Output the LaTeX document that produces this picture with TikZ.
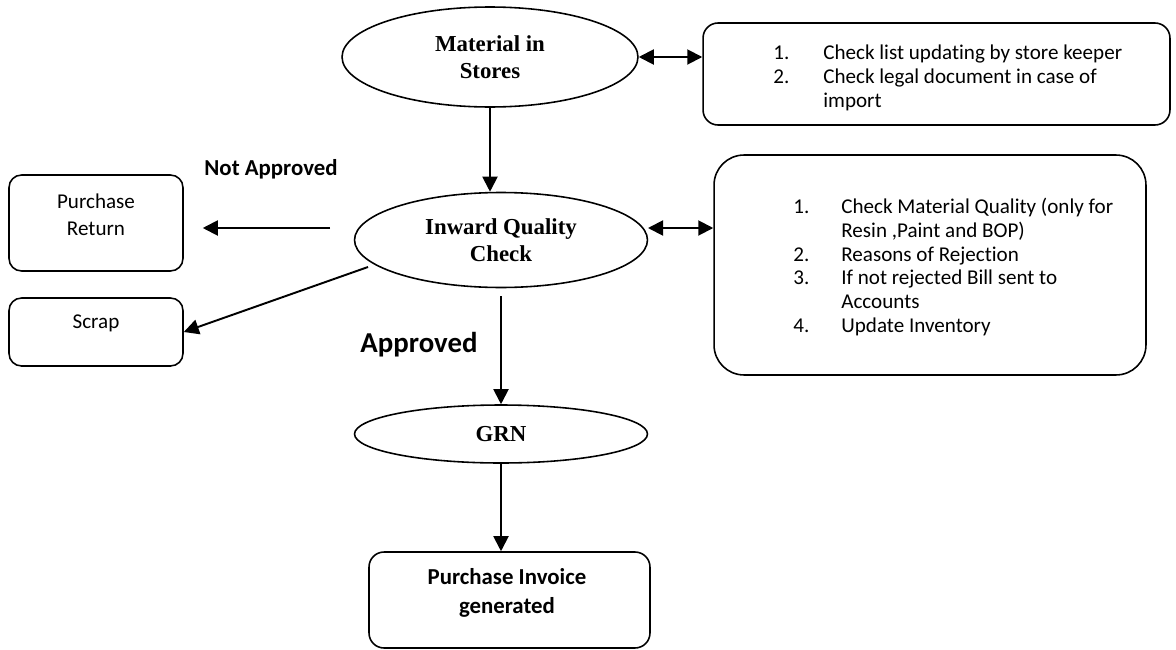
\documentclass[tikz,border=0pt]{standalone}
\usepackage{fontspec}
\setmainfont{Carlito}[Ligatures=NoCommon]
\newfontfamily\stagefont{Liberation Serif}
\usetikzlibrary{arrows.meta,shapes.geometric}

\begin{document}
\begin{tikzpicture}[x=0.02cm,y=-0.02cm]
\tikzstyle{every node}+=[inner sep=0pt]
\tikzstyle{stage}=[draw, ellipse, line width=0.9pt, align=center, font=\stagefont\bfseries\fontsize{13}{15.3}\selectfont]
\tikzstyle{note}=[draw, rounded corners=0.3cm, line width=0.9pt]
\tikzstyle{txt}=[align=left, font=\fontsize{12}{13.6}\selectfont]
\tikzstyle{flow}=[line width=1.1pt, -{Triangle[length=0.3cm,width=0.3cm]}]
\tikzstyle{both}=[line width=1.1pt, {Triangle[length=0.3cm,width=0.3cm]}-{Triangle[length=0.3cm,width=0.3cm]}]
\useasboundingbox (0,0) rectangle (1176,649);
\node [stage, minimum width=5.92cm, minimum height=2cm] (stores) at (490,57) {Material in\\Stores};
\node [stage, minimum width=5.86cm, minimum height=1.9cm] (iqc) at (501,240) {Inward Quality\\Check};
\node [stage, minimum width=5.86cm, minimum height=1.16cm] (grn) at (501,434) {GRN};
\node [note, minimum width=9.34cm, minimum height=2.04cm] (chk1) at (936.5,74) {};
\node [txt, anchor=west] (chk1txt) at (773,78) {\makebox[1cm][l]{1.}Check list updating by store keeper\\\makebox[1cm][l]{2.}Check legal document in case of\\\hspace*{1cm}import};
\node [note, minimum width=8.64cm, minimum height=4.4cm, rounded corners=0.6cm] (chk2) at (930,265) {};
\node [txt, anchor=west] (chk2txt) at (793,267) {\makebox[0.96cm][l]{1.}Check Material Quality (only for\\\hspace*{0.96cm}Resin ,Paint and BOP)\\\makebox[0.96cm][l]{2.}Reasons of Rejection\\\makebox[0.96cm][l]{3.}If not rejected Bill sent to\\\hspace*{0.96cm}Accounts\\\makebox[0.96cm][l]{4.}Update Inventory};
\node [note, minimum width=3.48cm, minimum height=1.92cm, rounded corners=0.25cm] (ret) at (96,223) {};
\node [txt, align=center, font=\fontsize{12}{15.6}\selectfont] (rettxt) at (96,215) {Purchase\\Return};
\node [note, minimum width=3.48cm, minimum height=1.36cm, rounded corners=0.25cm] (scrap) at (96,332) {};
\node [txt] (scraptxt) at (96,323) {Scrap};
\node [note, minimum width=5.62cm, minimum height=1.92cm] (inv) at (509.5,600) {};
\node [align=center, font=\bfseries\fontsize{13}{16.4}\selectfont] (invtxt) at (507,593) {Purchase Invoice\\generated};
\node [font=\bfseries\fontsize{13}{15}\selectfont] (notappr) at (271,169) {Not Approved};
\node [font=\bfseries\fontsize{16.4}{19}\selectfont] (appr) at (419,345) {Approved};
\coordinate (retfrom) at (330,228);
\coordinate (scrapfrom) at (368,267);
\coordinate (chk2from) at (648,228);
\coordinate (grnfrom) at (501,296);
\draw [flow] (stores.south) -- (stores.south |- iqc.north);
\draw [both] (stores.east) -- (stores.east -| chk1.west);
\draw [both] (chk2from) -- (chk2from -| chk2.west);
\draw [flow, shorten >=0.38cm] (retfrom) -- (retfrom -| ret.east);
\draw [flow] (scrapfrom) -- (scrap.east);
\draw [flow] (grnfrom) -- (grn.north);
\draw [flow] (grn.south) -- (grn.south |- inv.north);
\end{tikzpicture}
\end{document}
